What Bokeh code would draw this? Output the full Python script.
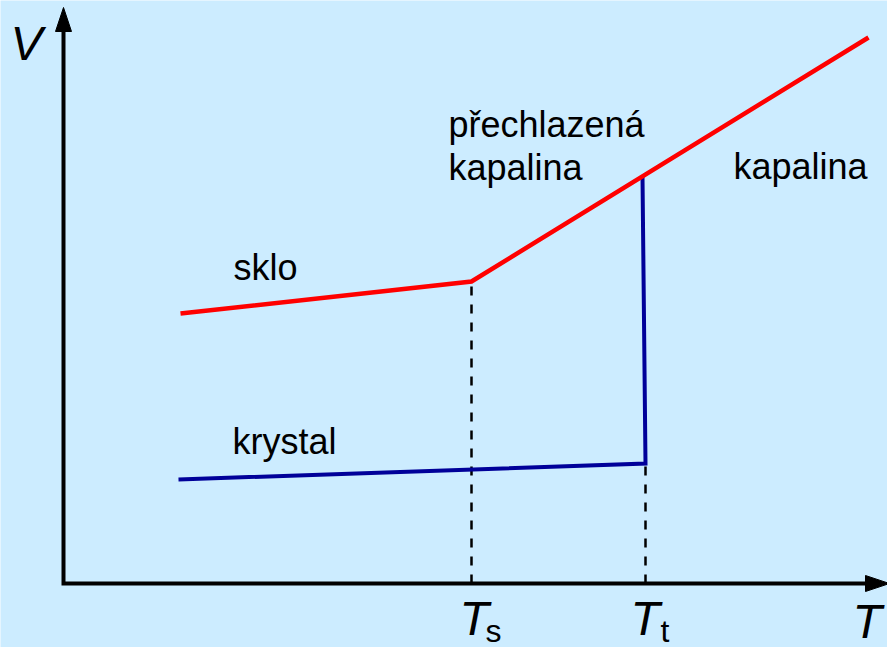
from bokeh.plotting import figure
from bokeh.models import Range1d
from bokeh.core.properties import value
from bokeh.embed import file_html
from bokeh.resources import INLINE

# ---- data (schematic units: T horizontal, V vertical) ----
glass_T = [11.7, 40.8, 80.5]          # sklo -> přechlazená kapalina -> kapalina
glass_V = [27.0, 30.2, 54.6]
crystal_T = [11.5, 58.2, 57.9]        # krystal -> tání -> kapalina
crystal_V = [10.4, 12.0, 40.7]
T_s, V_s = 40.8, 30.2                 # glass transition
T_t, V_t = 58.2, 12.0                 # melting point

labels = ["sklo", "krystal", "přechlazená", "kapalina", "kapalina"]
label_T = [17.0, 16.9, 38.5, 38.5, 67.0]
label_V = [31.6, 14.2, 45.9, 41.6, 41.7]

# axis extents
T_min, T_max = -6.3, 82.4
V_min, V_max = -6.4, 58.3

BG = "#CCECFF"
FONT = "Liberation Sans"

p = figure(width=887, height=647, output_backend="svg", toolbar_location=None,
           x_range=Range1d(T_min, T_max), y_range=Range1d(V_min, V_max),
           min_border=0, background_fill_color=BG, border_fill_color=BG)
p.axis.visible = False
p.grid.visible = False
p.outline_line_color = None

# ---- axes with arrow heads ----
y_tip = 57.6
x_tip = 82.6
head_len = 2.4
head_half = 0.8
p.line([0, 0, x_tip - head_len], [y_tip - head_len, 0, 0],
       line_color="black", line_width=4, line_join="miter")
p.patches(xs=[[0, -head_half, head_half], [x_tip, x_tip - head_len, x_tip - head_len]],
          ys=[[y_tip, y_tip - head_len, y_tip - head_len], [0, head_half, -head_half]],
          fill_color="black", line_color="black", line_width=1)

# ---- dashed guides ----
p.multi_line(xs=[[T_s, T_s], [T_t, T_t]], ys=[[0, V_s], [0, V_t]],
             line_color="black", line_width=2.5, line_dash="9 9")

# ---- curves ----
p.line(crystal_T, crystal_V, line_color="#000099", line_width=4, line_join="miter")
p.line(glass_T, glass_V, line_color="#FF0000", line_width=4.5, line_join="miter")

# ---- text labels ----
p.text(x=label_T, y=label_V, text=labels, text_font=value(FONT),
       text_font_size="36px", text_color="black", text_baseline="alphabetic",
       text_align="left")

# axis titles (italic)
p.text(x=[-5.3, 78.9, 39.6, 56.7], y=[54.0, -3.8, -3.5, -3.5],
       text=["V", "T", "T", "T"], text_font=value(FONT), text_font_style="italic",
       text_font_size="48px", text_color="black", text_baseline="alphabetic")
# subscripts
p.text(x=[42.2, 59.7], y=[-4.7, -4.7], text=["s", "t"], text_font=value(FONT),
       text_font_size="32px", text_color="black", text_baseline="alphabetic")

open("out.html", "w").write(file_html(p, INLINE))
